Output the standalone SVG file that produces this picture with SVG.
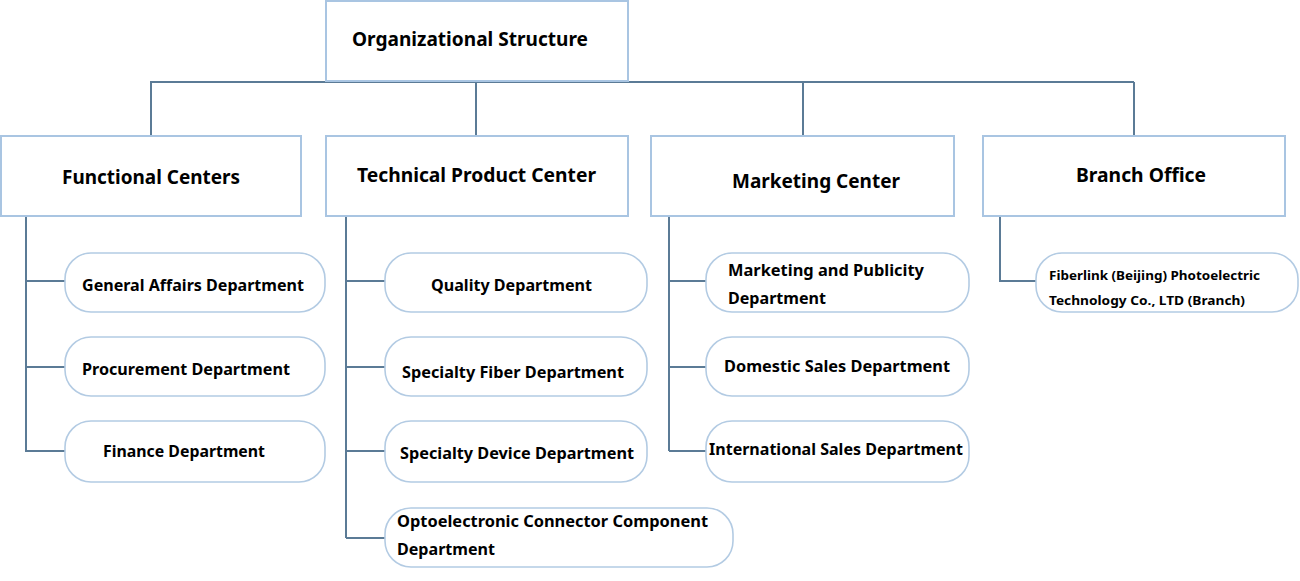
<svg xmlns="http://www.w3.org/2000/svg" width="1300" height="581" viewBox="0 0 1300 581">
<style>
.box{fill:#fff;stroke:#a9c5e2;stroke-width:2}
.dept{fill:#fff;stroke:#b3cbe3;stroke-width:1.6}
.ln{fill:none;stroke:#5b7b96;stroke-width:2}
text{font-family:"Noto Sans","Open Sans","Liberation Sans",sans-serif;font-weight:bold;fill:#000}
.t1{font-size:19px}
.t2{font-size:16px}
.t3{font-size:13px}
</style>
<rect width="1300" height="581" fill="#fff"/>
<g id="connectors">
<path class="ln" d="M150,82 H1134 M151,82 V136 M476,82 V136 M803,82 V136 M1134,82 V136"/>
<path class="ln" d="M26,216 V452 M26,281 H65 M26,367 H65 M26,451 H65"/>
<path class="ln" d="M346,216 V538 M346,281 H385 M346,367 H385 M346,451 H385 M346,538 H385"/>
<path class="ln" d="M669,216 V451 M669,281 H706 M669,367 H706 M669,451 H706"/>
<path class="ln" d="M1000,216 V281 H1036"/>
</g>
<g id="n-root"><rect class="box" x="326" y="1" width="302" height="80"/><text class="t1" x="352" y="46" textLength="236" lengthAdjust="spacingAndGlyphs">Organizational Structure</text></g>
<g id="n-functional"><rect class="box" x="1" y="136" width="300" height="80"/><text class="t1" x="62" y="184" textLength="178" lengthAdjust="spacingAndGlyphs">Functional Centers</text></g>
<g id="n-technical"><rect class="box" x="326" y="136" width="302" height="80"/><text class="t1" x="357" y="182" textLength="239" lengthAdjust="spacingAndGlyphs">Technical Product Center</text></g>
<g id="n-marketing"><rect class="box" x="651" y="136" width="303" height="80"/><text class="t1" x="732" y="188" textLength="168" lengthAdjust="spacingAndGlyphs">Marketing Center</text></g>
<g id="n-branch"><rect class="box" x="983" y="136" width="302" height="80"/><text class="t1" x="1076" y="182" textLength="130" lengthAdjust="spacingAndGlyphs">Branch Office</text></g>
<g id="n-general"><rect class="dept" x="65" y="253" width="260" height="59" rx="26"/><text class="t2" x="82" y="291" textLength="222" lengthAdjust="spacingAndGlyphs">General Affairs Department</text></g>
<g id="n-procurement"><rect class="dept" x="65" y="337" width="260" height="59" rx="26"/><text class="t2" x="82" y="375" textLength="208" lengthAdjust="spacingAndGlyphs">Procurement Department</text></g>
<g id="n-finance"><rect class="dept" x="65" y="421" width="260" height="61" rx="26"/><text class="t2" x="103" y="457" textLength="162" lengthAdjust="spacingAndGlyphs">Finance Department</text></g>
<g id="n-quality"><rect class="dept" x="385" y="253" width="262" height="59" rx="26"/><text class="t2" x="431" y="291" textLength="161" lengthAdjust="spacingAndGlyphs">Quality Department</text></g>
<g id="n-fiber"><rect class="dept" x="385" y="337" width="262" height="59" rx="26"/><text class="t2" x="402" y="378" textLength="222" lengthAdjust="spacingAndGlyphs">Specialty Fiber Department</text></g>
<g id="n-device"><rect class="dept" x="385" y="421" width="262" height="61" rx="26"/><text class="t2" x="400" y="459" textLength="234" lengthAdjust="spacingAndGlyphs">Specialty Device Department</text></g>
<g id="n-opto"><rect class="dept" x="385" y="508" width="348" height="59" rx="26"/><text class="t2" x="397" y="527" textLength="311" lengthAdjust="spacingAndGlyphs">Optoelectronic Connector Component</text><text class="t2" x="397" y="555" textLength="98" lengthAdjust="spacingAndGlyphs">Department</text></g>
<g id="n-publicity"><rect class="dept" x="706" y="253" width="263" height="59" rx="26"/><text class="t2" x="728" y="276" textLength="196" lengthAdjust="spacingAndGlyphs">Marketing and Publicity</text><text class="t2" x="728" y="304" textLength="98" lengthAdjust="spacingAndGlyphs">Department</text></g>
<g id="n-domestic"><rect class="dept" x="706" y="337" width="263" height="59" rx="26"/><text class="t2" x="724" y="372" textLength="226" lengthAdjust="spacingAndGlyphs">Domestic Sales Department</text></g>
<g id="n-international"><rect class="dept" x="706" y="421" width="263" height="61" rx="26"/><text class="t2" x="709" y="455" textLength="254" lengthAdjust="spacingAndGlyphs">International Sales Department</text></g>
<g id="n-fiberlink"><rect class="dept" x="1036" y="253" width="262" height="59" rx="26"/><text class="t3" x="1049" y="280" textLength="211" lengthAdjust="spacingAndGlyphs">Fiberlink (Beijing) Photoelectric</text><text class="t3" x="1049" y="305" textLength="196" lengthAdjust="spacingAndGlyphs">Technology Co., LTD (Branch)</text></g>
</svg>
